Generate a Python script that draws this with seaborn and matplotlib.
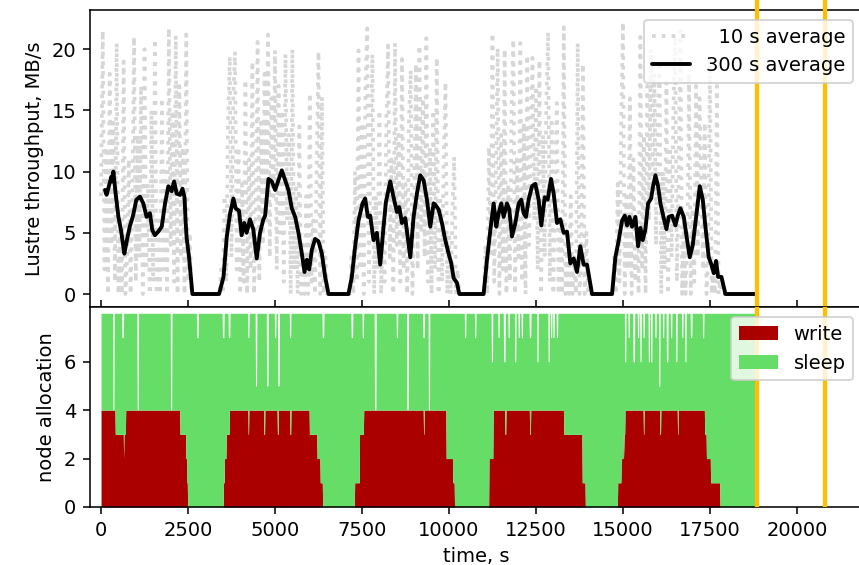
import numpy as np
import matplotlib
matplotlib.use("Agg")
import matplotlib.pyplot as plt
import seaborn as sns

# ---- Lustre throughput, 10 s averages (MB/s), 50 s sample spacing per write phase ----
step10 = 50
phase_start = [0, 3400, 7150, 11000, 14700]
thr10_phase1 = [8, 21.5, 2, 12, 0, 18, 4, 14, 1, 20.5, 0, 6, 0, 19, 0, 3, 11, 0, 7, 21,
                1, 13, 3, 17, 0, 20, 2, 9, 0, 15, 1, 20.8, 0, 6, 0, 16, 2, 10, 0, 21.7,
                4, 15, 1, 21.1, 0, 17, 3, 12, 0, 21.2, 1, 5, 0]
thr10_phase2 = [0, 2, 0, 8, 1, 14, 19.4, 3, 16, 19.8, 2, 12, 0, 9, 1, 17.5, 0, 11, 2, 19,
                0, 7, 20.6, 1, 14, 4, 18, 6, 21.2, 3, 16, 8, 19.9, 2, 17, 5, 15, 1, 19.6, 6,
                13, 0, 20, 2, 9, 0, 13.7, 0, 4, 0, 8, 0, 16.4, 1, 6, 0, 11, 19.8, 0, 16.1,
                0, 3, 0, 0]
thr10_phase3 = [0, 3, 0, 10, 1, 19.9, 2, 14, 0, 17, 21.7, 1, 12, 19.6, 0, 8, 2, 15, 0, 6,
                1, 14, 20.3, 3, 11, 0, 20.5, 4, 13, 1, 19.2, 2, 9, 0, 14, 18.3, 0, 7, 18.8, 2,
                20.3, 5, 16, 3, 20.9, 1, 12, 0, 15, 2, 19.3, 0, 8, 1, 11, 17.3, 0, 5, 0, 7,
                11.2, 0, 2, 0]
thr10_phase4 = [0, 4, 0, 12, 3, 21.3, 1, 10, 20.1, 0, 13, 2, 20, 0, 9, 1, 15, 20.8, 0, 11,
                3, 20.5, 1, 14, 0, 19.5, 4, 12, 19.3, 6, 17, 2, 19.1, 0, 13, 3, 16, 21.4, 1, 14,
                0, 9, 15.6, 0, 6, 0, 21.8, 0, 4, 0, 8, 0, 3, 0, 20.5, 0, 2, 18.8, 0, 5,
                0, 1, 0, 0]
thr10_phase5 = [0, 3, 0, 9, 1, 14, 22.2, 0, 8, 2, 16, 0, 11, 1, 5, 0, 21, 2, 13, 0,
                17, 6, 20, 9, 18, 4, 15, 19, 0, 10, 2, 17.3, 0, 12, 3, 15, 21, 1, 9, 21.5,
                0, 6, 0, 4, 18, 0, 7, 1, 17, 3, 16, 10, 2, 14, 0, 3, 19.5, 0, 2, 0,
                17, 0, 1, 0, 0]
thr10_end = 18800

# ---- Lustre throughput, 300 s moving average (MB/s) ----
t300 = [115, 160, 300, 330, 355, 420, 500, 575, 670, 730, 825, 920, 1015, 1120, 1215,
        1310, 1405, 1475, 1550, 1645, 1745, 1840, 1935, 2030, 2100, 2175, 2270, 2340, 2400,
        2430, 2460, 2530, 2626, 3394, 3520, 3615, 3710, 3805, 3870, 3965, 4040, 4115, 4185,
        4280, 4375, 4475, 4570, 4665, 4717, 4812, 4908, 5004, 5100, 5196, 5292, 5387, 5483,
        5579, 5675, 5771, 5848, 5915, 5982, 6058, 6154, 6250, 6346, 6442, 6537, 7112, 7208,
        7304, 7400, 7515, 7592, 7668, 7736, 7832, 7928, 8024, 8120, 8187, 8312, 8408, 8504,
        8571, 8648, 8744, 8888, 8983, 9079, 9175, 9271, 9367, 9463, 9559, 9606, 9702, 9798,
        9894, 9990, 10067, 10134, 10230, 10297, 10996, 11092, 11188, 11284, 11360, 11427,
        11504, 11571, 11667, 11734, 11811, 11907, 12003, 12079, 12146, 12213, 12290, 12386,
        12482, 12577, 12654, 12750, 12836, 12932, 13009, 13105, 13200, 13296, 13392, 13488,
        13584, 13680, 13775, 13871, 13967, 14111, 14687, 14783, 14879, 14975, 15052, 15119,
        15186, 15262, 15358, 15435, 15502, 15569, 15646, 15722, 15809, 15866, 15933, 16010,
        16077, 16172, 16249, 16316, 16412, 16508, 16575, 16652, 16748, 16844, 16920, 17006,
        17102, 17208, 17294, 17370, 17466, 17543, 17610, 17677, 17734, 17830, 17945, 18790]
thr300 = [8.5, 8.1, 9.6, 9.2, 10.0, 8.2, 6.3, 5.2, 3.3, 4.2, 5.5, 6.4, 7.7, 7.95, 7.4,
          6.3, 6.6, 5.2, 4.8, 5.1, 5.5, 7.4, 8.8, 8.4, 9.2, 8.2, 8.1, 8.6, 7.9,
          6.0, 4.6, 3.0, 0, 0, 1.4, 4.7, 6.6, 7.8, 7.0, 6.8, 4.8, 5.8, 5.0,
          6.1, 5.3, 2.9, 5.0, 6.1, 6.4, 9.4, 9.2, 8.5, 9.3, 10.1, 9.3, 8.5, 7.0,
          6.3, 5.0, 3.3, 1.8, 2.8, 2.0, 3.6, 4.5, 4.3, 3.3, 1.4, 0, 0, 1.4,
          3.9, 6.0, 7.4, 7.8, 6.3, 6.4, 4.4, 5.0, 2.4, 5.5, 7.5, 9.2, 7.9, 6.7,
          7.1, 5.8, 6.2, 3.0, 6.3, 8.2, 9.7, 9.3, 7.7, 5.5, 7.4, 7.3, 6.9, 5.8,
          4.4, 3.3, 2.5, 1.3, 0.9, 0, 0, 2.8, 5.2, 7.4, 5.5, 6.6,
          7.4, 6.3, 7.4, 6.9, 4.7, 5.8, 7.4, 7.7, 6.6, 6.3, 7.7, 8.8,
          9.0, 7.7, 5.6, 7.9, 7.7, 9.4, 8.2, 5.8, 6.1, 5.0, 5.1, 2.5,
          2.9, 1.8, 3.9, 2.4, 2.4, 0, 0, 3.0, 4.4, 6.0, 6.4, 5.6,
          6.3, 5.5, 6.3, 3.9, 5.4, 4.4, 5.3, 7.4, 7.8, 8.8, 9.7, 8.8,
          7.4, 6.2, 5.3, 6.3, 6.4, 5.6, 6.4, 7.0, 6.3, 4.4, 3.0, 4.0,
          6.3, 8.8, 7.7, 5.5, 3.0, 2.4, 1.7, 2.7, 1.4, 1.4, 0, 0]

# ---- node allocation: number of writing nodes (step changes) ----
write_t = [0, 403, 642, 660, 710, 2270, 2440, 2470, 2490, 3520, 3547, 3600, 3690,
           5982, 6203, 6300, 6366, 7286, 7430, 7545, 9913, 10110, 10153, 11141, 11266,
           13297, 13825, 13920, 14850, 14945, 15002, 15040, 17343, 17400, 17515, 17785]
write_n = [4, 3, 2, 3, 4, 3, 2, 1, 0, 1, 2, 3, 4,
           3, 2, 1, 0, 1, 3, 4, 2, 1, 0, 2, 4,
           3, 1, 0, 1, 2, 3, 4, 3, 2, 1, 0]
# moments where one writer briefly went to sleep
write_blip_t = [4237, 4690, 5080, 5440, 9272, 11620, 12330, 15040, 15599, 16070, 16575]
# moments where fewer than all 8 nodes were in write/sleep
busy_t = [355, 620, 1052, 2013, 2770, 3510, 3680, 4237, 4455, 4780, 5004, 5100, 5436,
          6380, 7210, 7525, 7880, 8505, 8810, 9270, 9425, 10469, 10757, 11236, 11427,
          11590, 11715, 11907, 12003, 12099, 12330, 12549, 12865, 12934, 13009, 13107,
          15069, 15166, 15310, 15436, 15503, 15599, 15742, 15819, 15934, 16049, 16155,
          16270, 16385, 16537, 16701, 16796, 16960, 17305]
busy_total = [4, 7, 4, 4, 7, 7, 7, 7, 5, 5, 7, 5, 7,
              7, 7, 7, 4, 7, 4, 7, 4, 7, 7, 6, 7,
              6, 7, 6, 7, 7, 7, 6, 6, 7, 7, 7,
              6, 7, 6, 7, 6, 7, 6, 6, 7, 5, 7,
              6, 7, 6, 7, 6, 7, 7]
n_nodes = 8
alloc_end = 18810

# ---- markers on the time axis ----
marker_t = [18851, 20805]

# ---- build the plotted tables ----
t10 = np.arange(0, thr10_end + 1, step10)
v10 = np.zeros(len(t10))
for start, vals in zip(phase_start, [thr10_phase1, thr10_phase2, thr10_phase3,
                                     thr10_phase4, thr10_phase5]):
    i0 = start // step10
    v10[i0:i0 + len(vals)] = vals

tn = np.arange(0, alloc_end + 1, 10)
write = np.array(write_n, float)[np.searchsorted(write_t, tn, side="right") - 1]
total = np.full(len(tn), float(n_nodes))
for tb in write_blip_t:
    m = np.abs(tn - tb) <= 10
    write[m] = np.maximum(write[m] - 1, 0)
for tb, lv in zip(busy_t, busy_total):
    m = np.abs(tn - tb) <= 20
    total[m] = np.minimum(total[m], lv)
sleep = np.clip(total - write, 0, None)

# ---- style ----
sns.set_style("ticks")
plt.rcParams.update({
    "font.family": ["DejaVu Sans"],
    "font.size": 10,
    "axes.edgecolor": "black",
    "axes.labelcolor": "black",
    "text.color": "black",
    "xtick.color": "black",
    "ytick.color": "black",
    "axes.linewidth": 0.8,
})

RED = "#aa0000"
GREEN = "#66dd66"
ORANGE = "#ffbf00"

fig = plt.figure(figsize=(859 / 140, 565 / 140), dpi=140)
ax1 = fig.add_axes([0.1048, 0.4558, 0.8999, 0.5265])
ax2 = fig.add_axes([0.1048, 0.1027, 0.8999, 0.3531], sharex=ax1)

# throughput panel
sns.lineplot(x=t10, y=v10, ax=ax1, color="#d6d6d6", linestyle=":", linewidth=1.9,
             label="  10 s average", sort=False, estimator=None)
sns.lineplot(x=t300, y=thr300, ax=ax1, color="black", linewidth=2.0,
             label="300 s average", sort=False, estimator=None)
ax1.set_ylabel("Lustre throughput, MB/s")
ax1.set_yticks([0, 5, 10, 15, 20])
ax1.set_ylim(-1.1, 23.2)
ax1.tick_params(axis="x", direction="in", labelbottom=False)
ax1.legend(loc="upper right", frameon=True)

# node allocation panel
ax2.stackplot(tn, write, sleep, colors=[RED, GREEN], labels=["write", "sleep"],
              linewidth=0)
ax2.set_ylim(0, 8.24)
ax2.set_yticks([0, 2, 4, 6])
ax2.set_ylabel("node allocation")
ax2.set_xlabel("time, s")
ax2.legend(loc="upper right", frameon=True)

ax2.set_xlim(-316, 21900)
ax2.set_xticks(np.arange(0, 20001, 2500))

for xm in marker_t:
    ax1.axvline(xm, ymin=0, ymax=1.06, color=ORANGE, linewidth=2.2, clip_on=False, zorder=3)
    ax2.axvline(xm, color=ORANGE, linewidth=2.2, zorder=3)

fig.align_ylabels([ax1, ax2])
fig.savefig("out.png", dpi=140)
